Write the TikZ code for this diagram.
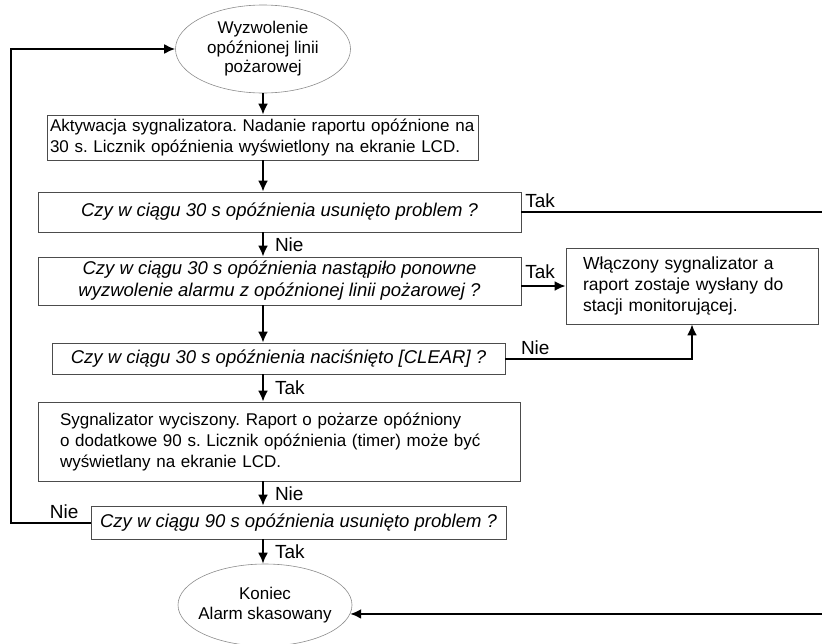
\documentclass[tikz,border=0pt]{standalone}
\usepackage{fontspec}
\setmainfont{Liberation Sans}
\usetikzlibrary{shapes.geometric,arrows.meta,calc,positioning}

\begin{document}
\frenchspacing
\begin{tikzpicture}[x=1pt,y=-1pt,
    font=\fontsize{17}{21}\selectfont,
    box/.style={rectangle,draw=black!70,line width=0.8pt,inner ysep=0pt},
    quest/.style={box,align=center,font=\fontsize{18.5}{22}\selectfont\itshape},
    term/.style={ellipse,draw=black!45,line width=0.6pt,inner sep=0pt,align=center,
      font=\fontsize{17}{19.5}\selectfont},
    arr/.style={-{Latex[length=11pt,width=10pt]},line width=2pt},
    lbl/.style={inner sep=3pt,font=\fontsize{19}{21}\selectfont},
    rlbl/.style={lbl,right,xshift=8pt}]
        \def\ax{263}
        \useasboundingbox (0,0) rectangle (822,643);
        \clip (0,0) rectangle (822,643);
        \coordinate (rt) at (832,0);
        %Terminals
        \node[term,minimum width=175pt,minimum height=88pt] (start) at (\ax,49)
          {Wyzwolenie\\opóźnionej linii\\pożarowej};
        \node[term,inner xsep=-14pt,minimum width=174pt,minimum height=82pt] (end) at (265,605)
          {Koniec\\Alarm skasowany};
        %Boxes
        \node[box,minimum width=431pt,minimum height=45pt,text width=425pt,inner xsep=3pt,align=left]
          (act) at (262.5,137.5)
          {Aktywacja sygnalizatora. Nadanie raportu opóźnione na\\30 s. Licznik opóźnienia wyświetlony na ekranie LCD.};
        \node[quest,minimum width=483pt,minimum height=40pt] (q1) at (279.5,212)
          {Czy w ciągu 30 s opóźnienia usunięto problem ?};
        \node[quest,minimum width=483pt,minimum height=48pt] (q2) at (279.5,281)
          {Czy w ciągu 30 s opóźnienia nastąpiło ponowne\\wyzwolenie alarmu z opóźnionej linii pożarowej ?};
        \node[quest,minimum width=453pt,minimum height=31pt] (q3) at (278.5,358.5)
          {Czy w ciągu 30 s opóźnienia naciśnięto [CLEAR] ?};
        \node[box,minimum width=482pt,minimum height=79pt,text width=438pt,inner xsep=22pt,align=left]
          (silent) at (279,441.5)
          {Sygnalizator wyciszony. Raport o pożarze opóźniony\\o dodatkowe 90 s. Licznik opóźnienia (timer) może być\\wyświetlany na ekranie LCD.};
        \node[quest,minimum width=415pt,minimum height=33pt] (q4) at (298.5,522.5)
          {Czy w ciągu 90 s opóźnienia usunięto problem ?};
        \node[box,minimum width=252pt,minimum height=76pt,text width=218pt,inner xsep=17pt,align=left,
          font=\fontsize{17.5}{21}\selectfont] (alarm) at (692,286)
          {Włączony sygnalizator a\\raport zostaje wysłany do\\stacji monitorującej.};
        %Main flow
        \draw[arr] (start.south) -- (start.south |- act.north);
        \draw[arr] (act.south -| start) -- (q1.north -| start);
        \draw[arr] (q1.south -| start) -- node[rlbl]{Nie} (q2.north -| start);
        \draw[arr] (q2.south -| start) -- (q3.north -| start);
        \draw[arr] (q3.south -| start) -- node[rlbl]{Tak} (silent.north -| start);
        \draw[arr] (silent.south -| start) -- node[rlbl]{Nie} (q4.north -| start);
        \draw[arr] (q4.south -| start) -- node[rlbl]{Tak} (end.north -| start);
        %Side branches
        \draw[arr] (q2.east |- alarm.west) -- node[pos=0,above right,lbl,yshift=3pt]{Tak} (alarm.west);
        \draw[arr] (q3.east) -| node[pos=0.08,above,lbl]{Nie} (alarm.south);
        \draw[arr] (q1.east) -- node[pos=0,above right,lbl]{Tak} (q1.east -| rt) |- (end.-6);
        \draw[arr] (q4.west) -- node[pos=0.33,above,lbl]{Nie} ++(-80,0) |- (start.west);
\end{tikzpicture}
\end{document}
